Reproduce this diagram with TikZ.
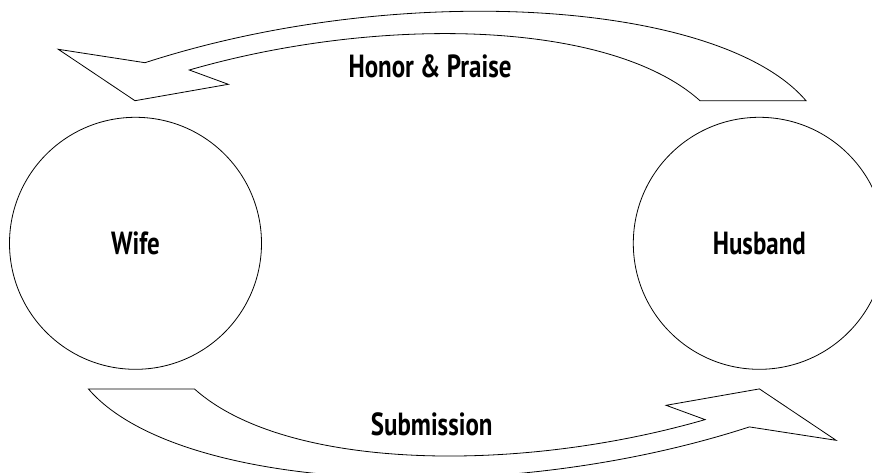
\documentclass[tikz,border=0pt]{standalone}
\usepackage{fontspec}
\setmainfont{PT Sans}[FakeStretch=0.78]
\usepackage{tikz}
\usetikzlibrary{positioning}

\begin{document}
\begin{tikzpicture}[
  x=1pt, y=-1pt,
  party/.style={circle, draw=black, line width=0.8pt, minimum size=252pt,
                inner sep=0pt, font=\fontsize{32}{34}\selectfont\bfseries},
  blockarrow/.style={draw=black, line width=0.8pt, line join=miter, fill=white},
  flabel/.style={font=\fontsize{32}{34}\selectfont\bfseries, inner sep=0pt}
]
\clip (0,0) rectangle (872,472);

% ── Partners ──
\node[party] (wife)    at (135.5,243.3) {Wife};
\node[party] (husband) at (759.3,243.3) {Husband};

% ── Top block arrow (husband to wife) ──
\draw[blockarrow] (806,100.7) .. controls (720,0) and (400,-20) .. (145,62.7)
  -- (58.3,49.3) -- (135,100.7) -- (228.3,84.3) -- (189.3,70)
  .. controls (380,15) and (610,20) .. (700,100.7) -- cycle;

% ── Bottom block arrow (wife to husband) ──
\begin{scope}[rotate around={180:(447.2,244.8)}]
\draw[blockarrow] (806,100.7) .. controls (720,0) and (400,-20) .. (145,62.7)
  -- (58.3,49.3) -- (135,100.7) -- (228.3,84.3) -- (189.3,70)
  .. controls (380,15) and (610,20) .. (700,100.7) -- cycle;
\end{scope}

% ── Arrow labels ──
\node[flabel, anchor=base] (honor) at (430,77.3)  {Honor \& Praise};
\node[flabel, anchor=base] (subm)  at (431.7,435) {Submission};
\end{tikzpicture}
\end{document}
